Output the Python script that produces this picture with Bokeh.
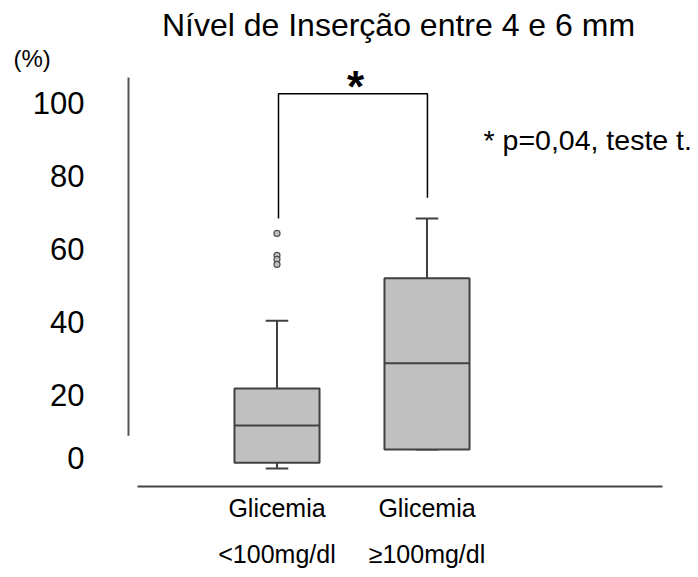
from bokeh.plotting import figure
from bokeh.models import Range1d, FixedTicker, LinearAxis, Title
from bokeh.core.properties import value
from bokeh.embed import file_html
from bokeh.resources import INLINE

FONT = "Liberation Sans"

# ---- data (%) ----
groups = [1, 2]
group_line1 = ["Glicemia", "Glicemia"]
group_line2 = ["<100mg/dl", "\u2265100mg/dl"]
whisker_low = [0.0, 5.2]
q1 = [1.6, 5.2]
median = [11.8, 28.8]
q3 = [21.9, 52.1]
whisker_high = [40.5, 68.5]
outlier_group = [1, 1, 1, 1]
outlier_values = [64.4, 58.4, 57.3, 55.9]

y_tick_positions = [3, 20, 40, 60, 80, 100]
y_tick_labels = ["0", "20", "40", "60", "80", "100"]

title_text = "N\u00edvel de Inser\u00e7\u00e3o entre 4 e 6 mm"
unit_text = "(%)"
note_text = "* p=0,04, teste t."

p = figure(width=696, height=575, output_backend="svg", toolbar_location=None,
           x_range=Range1d(-0.1767, 3.7967), y_range=Range1d(-6.03, 109.04),
           min_border_left=100, min_border_right=0, min_border_top=70,
           min_border_bottom=85)
p.outline_line_color = None
p.grid.visible = False
p.background_fill_color = "white"
p.border_fill_color = "white"

p.title.text = title_text
p.title.text_font = FONT
p.title.text_font_size = "32px"
p.title.text_font_style = "normal"
p.title.text_color = "black"
p.title.align = "center"
p.title.standoff = 2

unit = Title(text=unit_text, align="left", offset=-87, standoff=-2,
             text_font=FONT, text_font_size="24px", text_font_style="normal",
             text_color="black")
p.add_layout(unit, "above")

# y axis (labels only)
ya = p.yaxis[0]
ya.ticker = FixedTicker(ticks=y_tick_positions)
ya.major_label_overrides = {t: l for t, l in zip(y_tick_positions, y_tick_labels)}
ya.axis_line_color = None
ya.major_tick_line_color = None
ya.minor_tick_line_color = None
ya.major_label_standoff = 10
ya.major_label_text_font = FONT
ya.major_label_text_font_size = "31px"
ya.major_label_text_color = "black"

# x axes (two rows of labels)
xa = p.xaxis[0]
xa.ticker = FixedTicker(ticks=groups)
xa.major_label_overrides = {g: l for g, l in zip(groups, group_line1)}
xa2 = LinearAxis(ticker=FixedTicker(ticks=groups),
                 major_label_overrides={g: l for g, l in zip(groups, group_line2)})
p.add_layout(xa2, "below")
for i, a in enumerate([xa, xa2]):
    a.axis_line_color = None
    a.major_tick_line_color = None
    a.minor_tick_line_color = None
    a.major_label_text_font = FONT
    a.major_label_text_font_size = "25px"
    a.major_label_text_color = "black"
    a.major_label_standoff = -3 if i == 0 else 9

# axis lines drawn as in the picture
p.segment(x0=[0.01], y0=[107.1], x1=[0.01], y1=[9.0], line_color="#555555", line_width=2)
p.segment(x0=[0.07], y0=[-4.9], x1=[3.57], y1=[-4.9], line_color="#444444", line_width=2)

# boxes
bw = 0.567
cap = 0.075
left = [g - bw / 2 for g in groups]
right = [g + bw / 2 for g in groups]
p.segment(x0=groups, y0=q3, x1=groups, y1=whisker_high, line_color="#404040", line_width=2)
p.segment(x0=groups, y0=q1, x1=groups, y1=whisker_low, line_color="#404040", line_width=2)
p.segment(x0=[g - cap for g in groups], y0=whisker_high, x1=[g + cap for g in groups],
          y1=whisker_high, line_color="#404040", line_width=2)
p.segment(x0=[g - cap for g in groups], y0=whisker_low, x1=[g + cap for g in groups],
          y1=whisker_low, line_color="#404040", line_width=2)
p.quad(left=left, right=right, bottom=q1, top=q3, fill_color="#c0c0c0",
       line_color="#404040", line_width=2)
p.segment(x0=left, y0=median, x1=right, y1=median, line_color="#404040", line_width=2)
p.scatter(x=outlier_group, y=outlier_values, size=6, marker="circle",
          fill_color="#c0c0c0", line_color="#505050", line_width=1.2)

# significance bracket
p.line(x=[1.01, 1.01, 2.003, 2.003], y=[68.5, 102.7, 102.7, 74.2],
       line_color="black", line_width=1.5)
p.text(x=[1.523], y=[104.7], text=["*"], text_font=value(FONT),
       text_font_size="44px", text_font_style="bold", text_align="center",
       text_baseline="middle", text_color="black")
p.text(x=[2.377], y=[89.9], text=[note_text], text_font=value(FONT),
       text_font_size="28.5px", text_align="left", text_baseline="middle",
       text_color="black")

open("out.html", "w").write(file_html(p, INLINE))
